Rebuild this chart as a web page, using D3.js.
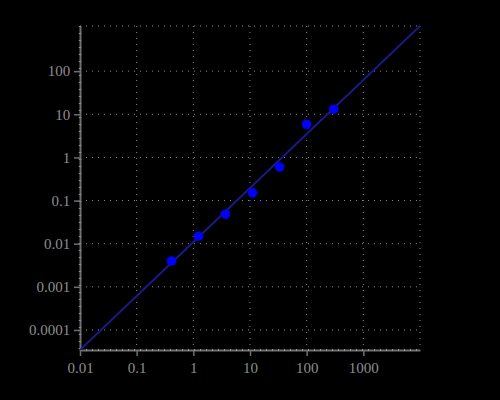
<!DOCTYPE html>
<html>
<head>
<meta charset="utf-8">
<script src="https://cdn.jsdelivr.net/npm/d3@7"></script>
<style>
  body { margin: 0; background: #000; }
  svg { display: block; }
</style>
</head>
<body>
<svg id="chart" width="500" height="400"></svg>
<script>
// measured points
const xValues = [0.412, 1.235, 3.7, 11.1, 33.3, 100, 300];
const yValues = [0.00396, 0.0149, 0.0483, 0.151, 0.598, 5.85, 13.1];

// fitted line, read at both ends of the plot
const fitX = [0.01, 10000];
const fitY = [3.43e-5, 1114];

const xTicks = [0.01, 0.1, 1, 10, 100, 1000];
const xTickLabels = ["0.01", "0.1", "1", "10", "100", "1000"];
const yTicks = [0.0001, 0.001, 0.01, 0.1, 1, 10, 100];
const yTickLabels = ["0.0001", "0.001", "0.01", "0.1", "1", "10", "100"];

const margin = {top: 26, right: 80, bottom: 50, left: 80};
const width = 500 - margin.left - margin.right;
const height = 400 - margin.top - margin.bottom;

const svg = d3.select("#chart");
svg.append("rect").attr("width", 500).attr("height", 400).attr("fill", "#000");

const g = svg.append("g")
    .attr("transform", `translate(${margin.left}, ${margin.top})`);

let x = d3.scaleLog().domain(fitX).range([0, width]);
let y = d3.scaleLog().domain(fitY).range([height, 0]);

const gridColor = "#8a8a8a";

// grid
g.selectAll(".vgrid")
    .data(xTicks.slice(1).concat([10000]))
    .enter()
    .append("line")
    .attr("x1", d => x(d)).attr("x2", d => x(d))
    .attr("y1", 0).attr("y2", height)
    .attr("stroke", gridColor)
    .attr("stroke-width", 1)
    .attr("stroke-dasharray", "1,5");

g.selectAll(".hgrid")
    .data(yTicks)
    .enter()
    .append("line")
    .attr("x1", 0).attr("x2", width)
    .attr("y1", d => y(d)).attr("y2", d => y(d))
    .attr("stroke", gridColor)
    .attr("stroke-width", 1)
    .attr("stroke-dasharray", "1,5");

// top border, dotted
g.append("line")
    .attr("x1", 0).attr("x2", width)
    .attr("y1", 0).attr("y2", 0)
    .attr("stroke", gridColor)
    .attr("stroke-dasharray", "1,5");

// axes
const xAxis = d3.axisBottom(x)
    .tickValues(xTicks)
    .tickFormat((d, i) => xTickLabels[i])
    .tickSize(6)
    .tickSizeOuter(0);

const yAxis = d3.axisLeft(y)
    .tickValues(yTicks)
    .tickFormat((d, i) => yTickLabels[i])
    .tickSize(6)
    .tickSizeOuter(0);

const axisColor = "#707070";

const gx = g.append("g")
    .attr("transform", `translate(0, ${height})`)
    .call(xAxis);

const gy = g.append("g")
    .call(yAxis);

[gx, gy].forEach(a => {
    a.select(".domain").attr("stroke", axisColor).attr("stroke-width", 2);
    a.selectAll(".tick line").attr("stroke", axisColor).attr("stroke-width", 1.5);
    a.selectAll(".tick text")
        .attr("fill", "#8e8e8e")
        .style("font-family", "'Liberation Serif', serif")
        .style("font-size", "15px");
});
gx.selectAll(".tick text").attr("dy", "0.95em");
gy.selectAll(".tick text").attr("dx", "-0.05em");

// little notches along the axis lines
g.append("line")
    .attr("x1", 0).attr("x2", width)
    .attr("y1", height).attr("y2", height)
    .attr("stroke", "#9a9a9a")
    .attr("stroke-width", 2)
    .attr("stroke-dasharray", "1,5");
g.append("line")
    .attr("x1", 0).attr("x2", 0)
    .attr("y1", 0).attr("y2", height)
    .attr("stroke", "#8a8a8a")
    .attr("stroke-width", 2.5)
    .attr("stroke-dasharray", "1,6");

// fit line
const line = d3.line()
    .x(d => x(d[0]))
    .y(d => y(d[1]));

g.append("path")
    .datum(d3.zip(fitX, fitY))
    .attr("d", line)
    .attr("fill", "none")
    .attr("stroke", "#1a1a8c")
    .attr("stroke-width", 1.8);

// points
g.selectAll("circle")
    .data(d3.zip(xValues, yValues))
    .enter()
    .append("circle")
    .attr("cx", d => x(d[0]))
    .attr("cy", d => y(d[1]))
    .attr("r", 4.8)
    .attr("fill", "#0000ff");
</script>
</body>
</html>
